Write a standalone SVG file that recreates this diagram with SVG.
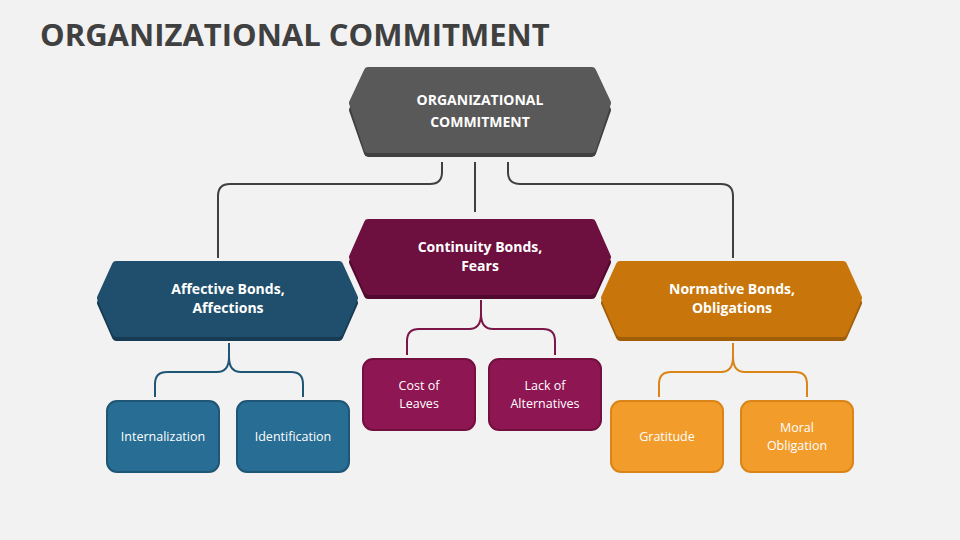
<svg xmlns="http://www.w3.org/2000/svg" width="960" height="540" viewBox="0 0 960 540">
<defs><style>
text{font-family:"Open Sans","Liberation Sans",sans-serif;fill:#fff;text-anchor:middle}
.h{font-weight:bold;font-size:14px}
.s{font-size:12.5px}
.c{fill:none;stroke-width:2}
.hx{stroke-linejoin:round;stroke-width:8}
</style></defs>
<rect width="960" height="540" fill="#f2f2f2"/>
<text x="40" y="46" style="text-anchor:start;font-weight:bold;font-size:31px;fill:#404040">ORGANIZATIONAL COMMITMENT</text>
<g id="connectors">
<path class="c" stroke="#404040" d="M442 162V172Q442 184 430 184H230Q218 184 218 196V258M475 162V212M508 162V172Q508 184 520 184H721Q733 184 733 196V258"/>
<path class="c" stroke="#1f5676" d="M229 343V357Q229 372 217 372H167Q155 372 155 384V397M229 357Q229 372 241 372H291Q303 372 303 384V397"/>
<path class="c" stroke="#7a1748" d="M481 300V314Q481 329 469 329H419Q407 329 407 341V355M481 314Q481 329 493 329H543Q555 329 555 341V355"/>
<path class="c" stroke="#d98518" d="M733 343V357Q733 372 721 372H671Q659 372 659 384V397M733 357Q733 372 745 372H795Q807 372 807 384V397"/>
</g>
<g id="n0">
<polygon class="hx" fill="#404040" stroke="#404040" points="368,76 592,76 607,110 592,153 368,153 353,110"/>
<polygon class="hx" fill="#595959" stroke="#595959" points="368,71 592,71 607,103 592,149 368,149 353,103"/>
<text class="h" x="480" y="105">ORGANIZATIONAL</text><text class="h" x="480" y="127">COMMITMENT</text>
</g>
<g id="n1">
<polygon class="hx" fill="#173b52" stroke="#173b52" points="116,270 339,270 354,303 339,337 116,337 101,303"/>
<polygon class="hx" fill="#1f4f6d" stroke="#1f4f6d" points="116,265 339,265 354,298 339,333 116,333 101,298"/>
<text class="h" x="228" y="294">Affective Bonds,</text><text class="h" x="228" y="313">Affections</text>
</g>
<g id="n2">
<polygon class="hx" fill="#52092e" stroke="#52092e" points="368,228 592,228 607,262 592,295 368,295 353,262"/>
<polygon class="hx" fill="#6d0f3f" stroke="#6d0f3f" points="368,223 592,223 607,257 592,291 368,291 353,257"/>
<text class="h" x="480" y="252">Continuity Bonds,</text><text class="h" x="480" y="271">Fears</text>
</g>
<g id="n3">
<polygon class="hx" fill="#a05e08" stroke="#a05e08" points="620,270 843,270 858,303 843,337 620,337 605,303"/>
<polygon class="hx" fill="#c8760b" stroke="#c8760b" points="620,265 843,265 858,298 843,333 620,333 605,298"/>
<text class="h" x="732" y="294">Normative Bonds,</text><text class="h" x="732" y="313">Obligations</text>
</g>
<g id="n4"><rect x="107" y="401" width="112" height="71" rx="10" fill="#276d94" stroke="#1f5676" stroke-width="2"/><text class="s" x="163" y="441">Internalization</text></g>
<g id="n5"><rect x="237" y="401" width="112" height="71" rx="10" fill="#276d94" stroke="#1f5676" stroke-width="2"/><text class="s" x="293" y="441">Identification</text></g>
<g id="n6"><rect x="363" y="359" width="112" height="71" rx="10" fill="#8e1653" stroke="#73103f" stroke-width="2"/><text class="s" x="419" y="390">Cost of</text><text class="s" x="419" y="408">Leaves</text></g>
<g id="n7"><rect x="489" y="359" width="112" height="71" rx="10" fill="#8e1653" stroke="#73103f" stroke-width="2"/><text class="s" x="545" y="390">Lack of</text><text class="s" x="545" y="408">Alternatives</text></g>
<g id="n8"><rect x="611" y="401" width="112" height="71" rx="10" fill="#f29c2c" stroke="#d98518" stroke-width="2"/><text class="s" x="667" y="441">Gratitude</text></g>
<g id="n9"><rect x="741" y="401" width="112" height="71" rx="10" fill="#f29c2c" stroke="#d98518" stroke-width="2"/><text class="s" x="797" y="432">Moral</text><text class="s" x="797" y="450">Obligation</text></g>
</svg>
